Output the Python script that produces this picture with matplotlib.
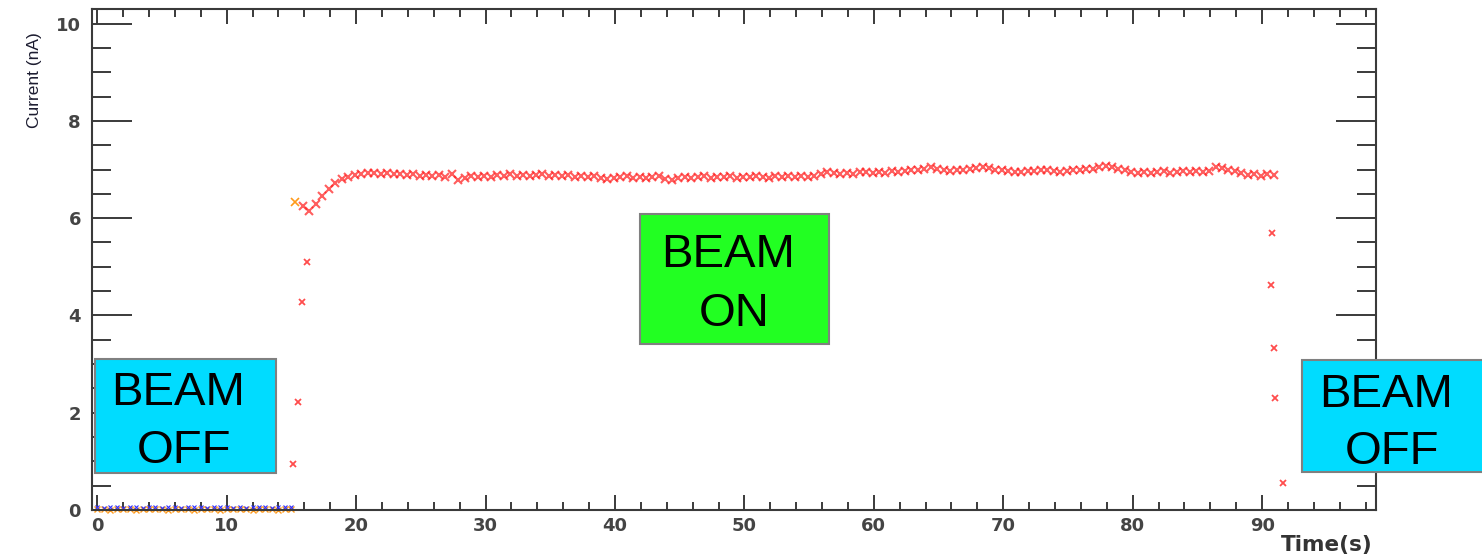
import numpy as np
import matplotlib.pyplot as plt
from matplotlib.patches import Rectangle
from matplotlib.ticker import MultipleLocator

# beam-off baseline readings (0 - 15 s, every 0.5 s)
off_t0 = 0.0
blue_i = [0.06, 0.05, 0.07, 0.06, 0.05, 0.06, 0.07, 0.05, 0.06, 0.06, 0.05,
          0.07, 0.06, 0.05, 0.06, 0.07, 0.06, 0.05, 0.06, 0.06, 0.07, 0.05,
          0.06, 0.05, 0.07, 0.06, 0.06, 0.05, 0.07, 0.06, 0.06]
orange_i = [0.01, 0.02, 0.0, 0.01, 0.02, 0.01, 0.0, 0.02, 0.01, 0.01, 0.02,
            0.0, 0.01, 0.02, 0.01, 0.0, 0.01, 0.02, 0.01, 0.0, 0.02, 0.01,
            0.01, 0.02, 0.0, 0.01, 0.02, 0.01, 0.0, 0.01, 0.02]

# ramp-up / ramp-down points
rise_t = [15.1, 15.5, 15.8, 16.2]
rise_i = [0.95, 2.22, 4.28, 5.1]
spike_t = [15.3]
spike_i = [6.34]
fall_t = [90.65, 90.8, 90.9, 91.0, 91.6]
fall_i = [4.63, 5.7, 3.33, 2.3, 0.56]

# beam-on current, from 15.9 s every 0.5 s
on_t0 = 15.9
on_i = [6.25, 6.15, 6.3, 6.45, 6.6, 6.72, 6.8, 6.85, 6.88, 6.9,
        6.92, 6.93, 6.9, 6.92, 6.91, 6.9, 6.88, 6.9, 6.87, 6.89,
        6.86, 6.88, 6.85, 6.9, 6.78, 6.82, 6.86, 6.84, 6.87, 6.85,
        6.88, 6.86, 6.9, 6.87, 6.89, 6.86, 6.88, 6.9, 6.87, 6.88,
        6.86, 6.88, 6.85, 6.87, 6.84, 6.86, 6.83, 6.8, 6.82, 6.84,
        6.86, 6.83, 6.85, 6.82, 6.84, 6.86, 6.8, 6.78, 6.83, 6.85,
        6.82, 6.84, 6.86, 6.83, 6.85, 6.84, 6.86, 6.83, 6.85, 6.84,
        6.86, 6.85, 6.83, 6.86, 6.84, 6.87, 6.85, 6.86, 6.84, 6.87,
        6.9, 6.95, 6.92, 6.9, 6.93, 6.91, 6.94, 6.95, 6.92, 6.94,
        6.93, 6.96, 6.94, 6.97, 6.99, 7.0, 7.02, 7.05, 7.02, 6.98,
        6.96, 6.98, 7.0, 7.02, 7.04, 7.06, 7.03, 7.0, 6.98, 6.96,
        6.94, 6.95, 6.97, 6.96, 6.98, 7.0, 6.97, 6.95, 6.97, 6.99,
        7.0, 7.02, 7.01, 7.05, 7.08, 7.06, 7.02, 6.98, 6.94, 6.93,
        6.95, 6.92, 6.94, 6.96, 6.93, 6.95, 6.97, 6.94, 6.96, 6.95,
        6.97, 7.05, 7.04, 7.0, 6.96, 6.92, 6.88, 6.9, 6.87, 6.91, 6.89]

x_ticks = [0, 10, 20, 30, 40, 50, 60, 70, 80, 90]
y_ticks = [0, 2, 4, 6, 8, 10]

off_t = off_t0 + 0.5 * np.arange(len(blue_i))
on_t = on_t0 + 0.5 * np.arange(len(on_i))

fig = plt.figure(figsize=(14.82, 5.59), dpi=100)
ax = fig.add_axes([0.0621, 0.0877, 0.8664, 0.8962])

ax.plot(off_t, orange_i, 'x', color='#ff9a1a', ms=4, mew=1.0, clip_on=False)
ax.plot(off_t, blue_i, 'x', color='#3030ff', ms=3, mew=0.8, clip_on=False)
ax.plot(on_t, on_i, 'x', color='#ff1a1a', ms=5.5, mew=1.5, alpha=0.7)
ax.plot(rise_t, rise_i, 'x', color='#ff4d4d', ms=5, mew=1.3)
ax.plot(fall_t, fall_i, 'x', color='#ff4d4d', ms=5, mew=1.3)
ax.plot(spike_t, spike_i, 'x', color='#ff9a1a', ms=6, mew=1.2)

ax.set_xlim(-0.4, 98.8)
ax.set_ylim(0, 10.3)
ax.set_xticks(x_ticks)
ax.set_yticks(y_ticks)
ax.xaxis.set_minor_locator(MultipleLocator(2))
ax.yaxis.set_minor_locator(MultipleLocator(0.5))

gray = '#3a3a3a'
for s in ax.spines.values():
    s.set_color(gray)
    s.set_linewidth(1.5)
ax.tick_params(axis='both', which='both', direction='in', top=True, right=True,
               color=gray, width=1.4)
ax.tick_params(axis='y', which='major', length=29, pad=8)
ax.tick_params(axis='y', which='minor', length=14)
ax.tick_params(axis='x', which='major', length=11, pad=5)
ax.tick_params(axis='x', which='minor', length=6)
for lab in ax.get_xticklabels() + ax.get_yticklabels():
    lab.set_fontfamily('DejaVu Sans')
    lab.set_fontweight('bold')
    lab.set_fontsize(13)
    lab.set_color('#444444')

fig.text(0.0236, 0.857, 'Current (nA)', rotation=90, ha='center', va='center',
         fontsize=12.5, family=['Liberation Sans Narrow', 'Liberation Sans'],
         color='#1c1c30')
fig.text(0.9265, 0.0245, 'Time(s)', ha='right', va='center', fontsize=15.5,
         fontweight='bold', family='DejaVu Sans', color='#333333')

# annotation boxes, pixel positions converted to figure fractions
W, H = 1482.0, 559.0
boxes = [
    ((95, 359, 276, 473), '#00dcff',
     [('BEAM', 178.5, 405), ('OFF', 184, 463)]),
    ((1302, 360, 1490, 472), '#00dcff',
     [('BEAM', 1386, 407), ('OFF', 1392, 464)]),
    ((640, 214, 829, 344), '#22ff22',
     [('BEAM', 728.5, 267), ('ON', 734, 326)]),
]
for (x0, y0, x1, y1), col, lines in boxes:
    fig.patches.append(Rectangle((x0 / W, 1 - y1 / H), (x1 - x0) / W, (y1 - y0) / H,
                                 transform=fig.transFigure, facecolor=col,
                                 edgecolor='#808080', linewidth=1.5))
    for txt, cx, base in lines:
        fig.text(cx / W, 1 - base / H, txt, ha='center', va='baseline',
                 fontsize=34, family='Liberation Sans', color='black')

fig.savefig('out.png', dpi=100)
